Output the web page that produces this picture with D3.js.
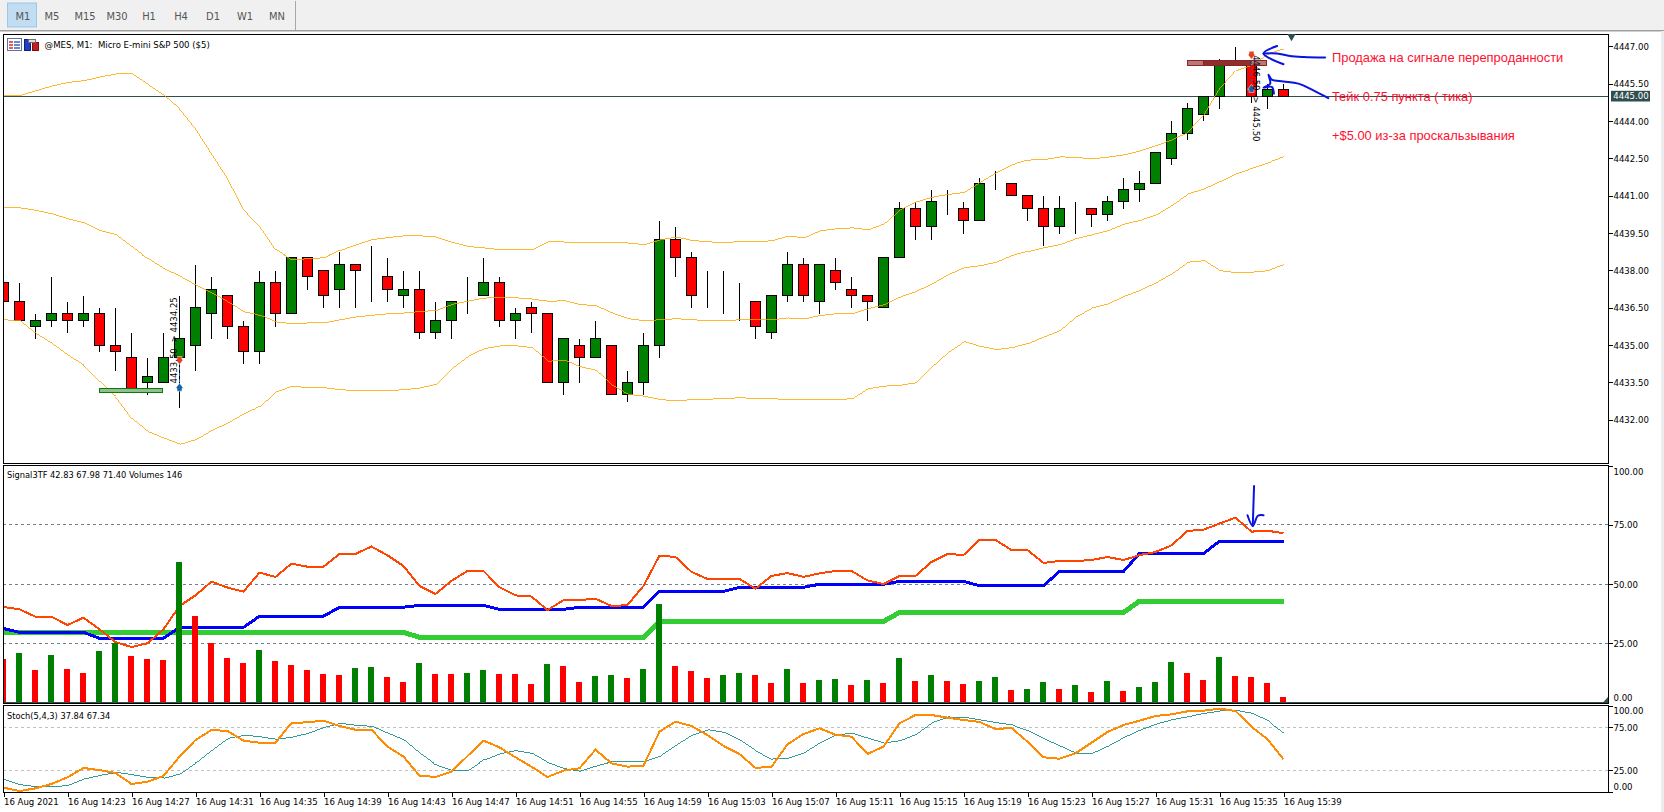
<!DOCTYPE html>
<html>
<head>
<meta charset="utf-8">
<script src="https://cdn.jsdelivr.net/npm/d3@7"></script>
<style>
  body { margin: 0; background: #fff; }
  svg { display: block; }
  text { font-family: "DejaVu Sans Condensed", "DejaVu Sans", sans-serif; font-size: 9.5px; fill: #000; }
  .axis path { display: none; }
  .axis line { stroke: #000; shape-rendering: crispEdges; }
  .note { font-family: "Liberation Sans", sans-serif; font-size: 12.9px; fill: #ff1030; }
  .tool { font-size: 11px; fill: #555; text-anchor: middle; }
  .caption { font-size: 9.2px; }
</style>
</head>
<body>
<svg class="chart" width="1664" height="812"></svg>
<script>
const timeframes = ["M1", "M5", "M15", "M30", "H1", "H4", "D1", "W1", "MN"];
const priceTicks = [4447, 4445.5, 4444, 4442.5, 4441, 4439.5, 4438, 4436.5, 4435, 4433.5, 4432];
const timeTicks = ["16 Aug 2021", "16 Aug 14:23", "16 Aug 14:27", "16 Aug 14:31", "16 Aug 14:35", "16 Aug 14:39", "16 Aug 14:43",
  "16 Aug 14:47", "16 Aug 14:51", "16 Aug 14:55", "16 Aug 14:59", "16 Aug 15:03", "16 Aug 15:07", "16 Aug 15:11",
  "16 Aug 15:15", "16 Aug 15:19", "16 Aug 15:23", "16 Aug 15:27", "16 Aug 15:31", "16 Aug 15:35", "16 Aug 15:39"];

const open = [4437.5,4436.75,4435.75,4436,4436.25,4436,4436.25,4435,4434.5,4433.5,4433.5,4434.5,4435,4436.25,4437,4435.75,4434.75,4437.5,4436.25,4438.5,
  4438,4437.25,4438.25,4438,4437.75,4437,4437.25,4435.5,4436,4437,4437,4437.5,4436,4436.5,4436.25,4433.5,4435,4434.5,4435,4433,
  4433.5,4435,4439.25,4438.5,4437,4436.75,4436.75,4436.75,4435.5,4437,4438.25,4436.75,4438,4437.25,4437,4436.5,4438.5,4440.5,4439.75,4440.75,
  4440.5,4440,4441.25,4441.5,4441,4440.5,4439.75,4440.5,4440.5,4440.25,4440.75,4441.25,4441.5,4442.5,4443.5,4444.25,4445,4446.25,4446.25,4445,4445.25];
const high = [4437.5,4437.5,4436.25,4437.75,4436.75,4437,4436.5,4436.5,4435.5,4434.5,4435.5,4437,4438.25,4437.75,4437,4436,4438,4438,4438.5,4438.5,
  4438,4438.75,4438.25,4439,4438.5,4438,4438,4436.75,4436.75,4437.75,4438.5,4437.75,4436.5,4436.75,4436.25,4435.25,4435.25,4436,4435,4434,
  4435.5,4440,4439.75,4438.75,4438,4438,4437.5,4436.75,4437,4438.75,4438.5,4438.25,4438.5,4437.75,4437,4438.5,4440.75,4440.75,4441.25,4441.25,
  4440.75,4441.75,4442,4441.5,4441,4441,4441,4440.75,4440.5,4441,4441.75,4442,4442.75,4444,4444.75,4445,4446.5,4447,4446.25,4445.5,4445.5];
const low = [4436.75,4436,4435.25,4435.75,4435.5,4435.75,4434.75,4434,4433.25,4433,4433.5,4432.5,4434,4435.25,4435.25,4434.25,4434.25,4435.75,4436.25,4437.25,
  4436.5,4436.5,4436.5,4436.75,4436.75,4436.5,4435.25,4435.25,4435.25,4436.25,4437,4435.75,4435.25,4435.5,4433.5,4433,4433.5,4434.5,4433,4432.75,
  4433,4434.5,4437.75,4436.5,4436.5,4436.25,4436,4435.25,4435.25,4436.75,4436.75,4436.25,4437.25,4436.5,4436,4436.5,4438.5,4439.25,4439.25,4440.25,
  4439.5,4440,4441.25,4441,4440,4439,4439.5,4439.5,4439.75,4440,4440.5,4440.75,4441.5,4442.25,4443.25,4444,4444.5,4446.25,4444.75,4444.5,4445];
const close = [4436.75,4436,4436,4436.25,4436,4436.25,4435,4434.75,4433.25,4433.75,4434.5,4435.25,4436.5,4437.25,4435.75,4434.75,4437.5,4436.25,4438.5,4437.75,
  4437,4438.25,4438,4438,4437.25,4437.25,4435.5,4436,4436.75,4437,4437.5,4436,4436.25,4436.25,4433.5,4435.25,4434.5,4435.25,4433,4433.5,
  4435,4439.25,4438.5,4437,4437,4436.75,4436.75,4435.75,4437,4438.25,4437,4438.25,4437.5,4437,4436.75,4438.5,4440.5,4439.75,4440.75,4440.75,
  4440,4441.5,4441.25,4441,4440.5,4439.75,4440.5,4440.5,4440.25,4440.75,4441.25,4441.5,4442.75,4443.5,4444.5,4445,4446.25,4446.25,4445,4445.25,4445];

const bandUpper = [4445.03,4445.03,4445.22,4445.41,4445.55,4445.62,4445.77,4445.89,4445.89,4445.46,4445.02,4444.48,4443.68,4442.68,4441.68,4440.43,4439.77,4438.83,4438.43,4438.47,
  4438.51,4438.8,4439.03,4439.24,4439.32,4439.39,4439.39,4439.34,4439.12,4438.96,4438.9,4438.83,4438.85,4438.83,4439.15,4439.14,4439.11,4439.14,4439.14,4439.1,
  4439.03,4439.23,4439.34,4439.2,4439.15,4439.11,4439.17,4439.15,4439.19,4439.38,4439.31,4439.59,4439.67,4439.71,4439.63,4439.87,4440.43,4440.75,4440.94,4441.05,
  4441.13,4441.54,4441.92,4442.25,4442.43,4442.45,4442.56,4442.54,4442.48,4442.55,4442.64,4442.8,4443.01,4443.25,4443.55,4444.22,4445.29,4446.02,4446.25,4446.69,4446.89];
const bandMiddle = [4440.51,4440.51,4440.41,4440.27,4440.07,4439.91,4439.6,4439.43,4438.94,4438.47,4438.07,4437.76,4437.4,4437.09,4436.73,4436.33,4436.2,4435.93,4435.86,4435.89,
  4435.89,4436.02,4436.13,4436.2,4436.26,4436.29,4436.35,4436.39,4436.64,4436.77,4436.89,4436.9,4436.9,4436.85,4436.76,4436.78,4436.63,4436.58,4436.29,4436.06,
  4435.98,4436.02,4436.06,4436.02,4435.98,4435.98,4436.02,4436.02,4436.02,4436.09,4436.05,4436.19,4436.26,4436.26,4436.46,4436.62,4436.93,4437.16,4437.46,4437.83,
  4438.11,4438.19,4438.33,4438.6,4438.76,4438.91,4439.04,4439.28,4439.43,4439.6,4439.86,4440.01,4440.23,4440.61,4441.07,4441.28,4441.57,4441.88,4442.1,4442.32,4442.56];
const bandLower = [4436.02,4435.97,4435.46,4435.06,4434.59,4434.19,4433.52,4432.92,4432.05,4431.52,4431.26,4431.02,4431.21,4431.58,4431.88,4432.25,4432.54,4433.12,4433.35,4433.29,
  4433.29,4433.21,4433.17,4433.17,4433.17,4433.21,4433.28,4433.43,4434.06,4434.55,4434.86,4434.97,4434.97,4434.9,4434.35,4434.4,4434.13,4433.99,4433.39,4433.02,
  4432.95,4432.81,4432.77,4432.81,4432.83,4432.85,4432.89,4432.85,4432.85,4432.81,4432.81,4432.81,4432.81,4432.85,4433.25,4433.35,4433.39,4433.49,4434.13,4434.7,
  4435.14,4434.95,4434.82,4434.9,4435.06,4435.33,4435.59,4436.13,4436.49,4436.66,4436.96,4437.2,4437.51,4437.87,4438.33,4438.39,4437.99,4437.91,4437.93,4437.99,4438.23];

const signalRed = [40.3,39.3,36.2,36.2,32.7,35.8,30.9,25.5,23.4,25,30.9,40.7,45.2,51,48.5,46.8,54.8,53,58.6,57.3,
  57.3,62.7,62.7,65.8,62.1,57.6,49.2,45.8,51.3,55.5,55.5,48.6,45.2,44.7,39,43.2,43.2,43.8,40.7,41.1,
  49.2,62,61.4,55.1,52.1,52.1,52.1,48,53.4,54.6,53,54.5,55.5,55.5,51.5,50,53.4,53.4,59.3,62.7,
  62.2,68.6,68.6,64.3,64.3,58.9,59.7,59.7,60.1,61.4,60.1,62.2,63.5,66.3,72.4,72.9,75.5,78,72.1,72.5,71.4];
const signalBlue = [31.2,29.6,29.6,29.6,29.6,29.6,27.1,27.1,27.1,27.1,27.1,31.7,31.7,31.7,31.7,31.7,36.4,36.4,36.4,36.4,
  36.4,40.2,40.2,40.2,40.2,40.2,41,41,41,41,41,39.3,39.3,39.3,39.3,39.3,40.2,40.2,40.2,40.2,
  40.2,46.9,46.9,46.9,46.9,46.9,48.6,48.6,48.6,48.6,48.6,49.9,49.9,49.9,49.9,49.9,51.1,51.1,51.1,51.1,
  51.1,49.3,49.3,49.3,49.3,49.3,55.3,55.3,55.3,55.3,55.3,62.9,62.9,62.9,62.9,62.9,68,68,68,68,68];
const signalGreen = [29.6,29.6,29.6,29.6,29.6,29.6,29.6,29.6,29.6,29.6,29.6,29.6,29.6,29.6,29.6,29.6,29.6,29.6,29.6,29.6,
  29.6,29.6,29.6,29.6,29.6,29.6,27.5,27.5,27.5,27.5,27.5,27.5,27.5,27.5,27.5,27.5,27.5,27.5,27.5,27.5,
  27.5,34.2,34.2,34.2,34.2,34.2,34.2,34.2,34.2,34.2,34.2,34.2,34.2,34.2,34.2,34.2,38,38,38,38,
  38,38,38,38,38,38,38,38,38,38,38,42.8,42.8,42.8,42.8,42.8,42.8,42.8,42.8,42.8,42.8];
const volumes = [1187,1351,886,1296,913,803,1406,1625,1269,1187,1160,3844,2365,1625,1214,1077,1433,1132,1023,886,
  776,749,940,968,694,557,1077,776,776,803,886,776,776,502,1050,995,557,721,730,666,
  913,2693,995,858,666,749,803,749,530,913,530,612,639,475,612,530,1214,584,749,584,
  502,584,694,338,365,557,365,475,283,584,310,420,557,1105,803,612,1242,721,694,530,146];
const stochMain = [4.8,0.9,4,9.1,16.8,27.7,25.3,21.9,9.1,11.8,18.4,40.9,60.2,71.9,70.7,59.5,57.1,57.1,80,80.8,
  82.7,76.5,72.2,72.2,52.5,40.9,18.8,17.2,23.4,41.6,59.5,51.7,40.1,29.2,17.2,24.6,27.3,49,33.1,29.2,
  30.4,69.9,81.6,76.5,66,53.3,44,27.7,29.2,55.2,67.2,73.8,66.4,64.1,44,52.5,79.6,89.3,89.3,86.2,
  83.5,81.2,73,74.2,58.3,40.1,38.5,44.7,57.1,69.5,77.7,82.7,88.1,90.1,93.6,94.3,96.7,94,75.7,61,37.8];
const stochSignal = [14.1,8.3,6,5.6,7.5,14.9,19.1,22.6,19.9,16.8,16,20.7,33.9,48.6,62.2,65.7,64.1,61,63.7,68,
  75,79.6,77.3,76.1,68,60.2,44.7,31.2,24.6,25,37,44.3,47.8,44.7,33.9,26.9,23.8,30,34.7,35.4,
  35.4,41.6,54.4,66,72.2,69.1,60.2,47.4,38.1,38.9,45.5,57.1,66.4,68,62.2,56.7,59.5,66.8,80.4,87,
  86.6,83.5,80.4,77.7,71.1,61.4,53.2,44.7,44.7,53.2,63.3,71.8,78.8,83.9,87.4,91.2,94,94.7,91.2,82.7,68.5];

// zones, trades and hand drawn notes, in bar index / chart value
const lastPrice = 4445;
const zoneStart = [6, 74, 75];
const zoneEnd = [9.94, 78.96, 77.95];
const zoneTop = [4433.25, 4446.44, 4446.44];
const zoneBottom = [4433.07, 4446.25, 4446.25];
const zoneFill = ["#8fbf8f", "#b87878", "#8c2f2f"];
const zoneEdge = ["#0b7a0b", "#8b2525", "#8b2525"];
const tradeBar = [11, 78];
const tradeSell = [4434.38, 4446.64];
const tradeBuy = [4433.31, 4445.31];
const tradeLabel = ["4433.50 -> 4434.25", "4446.50 -> 4445.50"];
const tradeLabelPrice = [4435.19, 4444.91];
const tradeLabelSide = [-5.5, 4.5];
const tradeLabelTurn = [-90, 90];
const noteTexts = ["Продажа на сигнале перепроданности", "Тейк 0.75 пункта ( тика)", "+$5.00 из-за проскальзывания"];
const notePrice = [4446.55, 4444.98, 4443.4];
const penSell = [[82.6,4446.55],[81.27,4446.57],[80.4,4446.61],[79.6,4446.71],[78.75,4446.71]];
const penSellHead = [[79.6,4447.01],[78.75,4446.71],[80,4446.28]];
const penTake = [[82.8,4444.92],[81.87,4445.23],[80.93,4445.5],[80,4445.59],[79.27,4445.66],[79.06,4445.86],[79.17,4445.5],[78.75,4445.34],[79.27,4445.37],[79.4,4445.1]];
const penSignal = [[78.16,91.35],[78.08,74.5]];
const penSignalHead = [[77.75,79],[78.08,74.5],[78.4,78.8],[78.75,79]];

const bars = d3.range(open.length);
const svg = d3.select("svg.chart");

const panelLeft = 3;
const panelRight = 1608.5;
const x = d3.scaleLinear().domain([0, 80]).range([3.5, 1283.5]);
const priceY = d3.scaleLinear().domain([4432, 4447]).range([419.8, 46.3]);
const signalY = d3.scaleLinear().domain([0, 100]).range([702.5, 465.5]);
const stochY = d3.scaleLinear().domain([0, 100]).range([791.8, 705.8]);
const volumeH = d3.scaleLinear().domain([0, 146]).range([0, 5.33]);

// toolbar
svg.append("rect").attr("width", 1664).attr("height", 30).attr("fill", "#f0f0f0");
svg.append("rect").attr("y", 30).attr("width", 1664).attr("height", 1.5).attr("fill", "#a0a0a0");
svg.append("rect").attr("x", 295).attr("y", 1).attr("width", 1).attr("height", 29).attr("fill", "#a8a8a8");
svg.append("rect").attr("x", 7.5).attr("y", 3).attr("width", 29).attr("height", 24).attr("fill", "#c2dcf2").attr("stroke", "#98c8ee");
svg.append("rect").attr("x", 1661).attr("y", 31).attr("width", 3).attr("height", 781).attr("fill", "#ededed");
svg.selectAll("text.tool").data(timeframes).enter().append("text")
  .attr("class", "tool")
  .attr("x", (d, i) => [23, 52, 85, 117, 149, 181, 213, 245, 277][i])
  .attr("y", 19.5)
  .text((d) => d);

// panel clips
const defs = svg.append("defs");
[["clipMain", 34, 429.5], ["clipSignal", 465.5, 237.5], ["clipStoch", 705.5, 86.5]].forEach((c) => {
  defs.append("clipPath").attr("id", c[0]).append("rect")
    .attr("x", panelLeft).attr("y", c[1]).attr("width", panelRight - panelLeft).attr("height", c[2]);
});
const main = svg.append("g").attr("clip-path", "url(#clipMain)");
const sig = svg.append("g").attr("clip-path", "url(#clipSignal)");
const sto = svg.append("g").attr("clip-path", "url(#clipStoch)");

const crisp = (v) => Math.round(v - 0.5) + 0.5;

// price panel
main.append("line")
  .attr("x1", panelLeft).attr("x2", panelRight)
  .attr("y1", crisp(priceY(lastPrice))).attr("y2", crisp(priceY(lastPrice)))
  .attr("stroke", "#2f4f4f").attr("shape-rendering", "crispEdges");

const candles = main.selectAll("g.candle").data(bars).enter().append("g").attr("class", "candle").attr("shape-rendering", "crispEdges");
candles.append("line")
  .attr("x1", (i) => x(i)).attr("x2", (i) => x(i))
  .attr("y1", (i) => crisp(priceY(high[i]))).attr("y2", (i) => crisp(priceY(low[i])))
  .attr("stroke", "#000");
candles.append("rect")
  .attr("x", (i) => x(i) - 5)
  .attr("width", 10)
  .attr("y", (i) => crisp(priceY(Math.max(open[i], close[i]))))
  .attr("height", (i) => crisp(priceY(Math.min(open[i], close[i]))) - crisp(priceY(Math.max(open[i], close[i]))))
  .attr("fill", (i) => (close[i] >= open[i] ? "#008000" : "#ff0000"))
  .attr("stroke", "#000");

const priceLine = d3.line().x((d, i) => x(i)).y((d) => priceY(d));
[bandUpper, bandMiddle, bandLower].forEach((band) => {
  main.append("path").attr("d", priceLine(band))
    .attr("fill", "none").attr("stroke", "#ffa500").attr("stroke-width", 0.8).attr("shape-rendering", "crispEdges");
});

main.selectAll("rect.zone").data(zoneStart).enter().append("rect")
  .attr("class", "zone")
  .attr("x", (d) => crisp(x(d)))
  .attr("width", (d, i) => Math.round(x(zoneEnd[i]) - x(d)))
  .attr("y", (d, i) => crisp(priceY(zoneTop[i])))
  .attr("height", (d, i) => Math.round(priceY(zoneBottom[i]) - priceY(zoneTop[i])))
  .attr("fill", (d, i) => zoneFill[i])
  .attr("stroke", (d, i) => zoneEdge[i])
  .attr("shape-rendering", "crispEdges");

// trades
const trades = main.selectAll("g.trade").data(tradeBar).enter().append("g").attr("class", "trade");
trades.append("line")
  .attr("x1", (d) => x(d)).attr("x2", (d) => x(d))
  .attr("y1", (d, i) => priceY(tradeSell[i])).attr("y2", (d, i) => priceY(tradeBuy[i]))
  .attr("stroke", "#1560a8").attr("stroke-dasharray", "3,3").attr("shape-rendering", "crispEdges");
trades.append("path")
  .attr("d", "M-2.5,-4H2.5V-1H4L0,4L-4,-1H-2.5Z")
  .attr("transform", (d, i) => `translate(${x(d)},${priceY(tradeSell[i])})`)
  .attr("fill", "#e2421f").attr("stroke", "#fff").attr("stroke-width", 0.5);
trades.append("path")
  .attr("d", "M-2.5,4H2.5V1H4L0,-4L-4,1H-2.5Z")
  .attr("transform", (d, i) => `translate(${x(d)},${priceY(tradeBuy[i])})`)
  .attr("fill", "#1560a8").attr("stroke", "#fff").attr("stroke-width", 0.5);
trades.append("text")
  .attr("text-anchor", "middle")
  .attr("dy", "0.35em")
  .attr("transform", (d, i) => `translate(${x(d) + tradeLabelSide[i]},${priceY(tradeLabelPrice[i])}) rotate(${tradeLabelTurn[i]})`)
  .text((d, i) => tradeLabel[i]);

// notes next to the last bars
svg.selectAll("text.note").data(noteTexts).enter().append("text")
  .attr("class", "note")
  .attr("x", x(83.03))
  .attr("y", (d, i) => priceY(notePrice[i]))
  .attr("dy", "0.35em")
  .text((d) => d);

const penLine = (scaleY) => d3.line().x((d) => x(d[0])).y((d) => scaleY(d[1])).curve(d3.curveCatmullRom);
[[penSell, priceY], [penSellHead, priceY], [penTake, priceY], [penSignal, signalY], [penSignalHead, signalY]].forEach((p) => {
  svg.append("path").attr("d", penLine(p[1])(p[0]))
    .attr("fill", "none").attr("stroke", "#0a14e0").attr("stroke-width", 2).attr("stroke-linecap", "round");
});

// signal panel
[75, 50, 25].forEach((level) => {
  sig.append("line")
    .attr("x1", panelLeft).attr("x2", panelRight)
    .attr("y1", crisp(signalY(level))).attr("y2", crisp(signalY(level)))
    .attr("stroke", "#708090").attr("stroke-dasharray", "3,3").attr("shape-rendering", "crispEdges");
});
const signalLine = d3.line().x((d, i) => x(i)).y((d) => signalY(d));
sig.append("path").attr("d", signalLine(signalGreen)).attr("fill", "none").attr("stroke", "#32cd32").attr("stroke-width", 5).attr("shape-rendering", "crispEdges");
sig.append("path").attr("d", signalLine(signalBlue)).attr("fill", "none").attr("stroke", "#0000ff").attr("stroke-width", 3).attr("shape-rendering", "crispEdges");
sig.append("path").attr("d", signalLine(signalRed)).attr("fill", "none").attr("stroke", "#ff4500").attr("stroke-width", 2).attr("shape-rendering", "crispEdges");
sig.selectAll("rect.volume").data(bars).enter().append("rect")
  .attr("class", "volume")
  .attr("x", (i) => x(i) - 3.5)
  .attr("width", 6)
  .attr("y", (i) => 702 - volumeH(volumes[i]))
  .attr("height", (i) => volumeH(volumes[i]))
  .attr("fill", (i) => (i > 0 && volumes[i] > volumes[i - 1] ? "#008000" : "#ff0000"))
  .attr("shape-rendering", "crispEdges");
sig.append("line").attr("x1", panelLeft).attr("x2", panelRight).attr("y1", 702.5).attr("y2", 702.5)
  .attr("stroke", "#2f4f4f").attr("stroke-width", 1).attr("shape-rendering", "crispEdges");

// stochastic panel
[75, 25].forEach((level) => {
  sto.append("line")
    .attr("x1", panelLeft).attr("x2", panelRight)
    .attr("y1", crisp(stochY(level))).attr("y2", crisp(stochY(level)))
    .attr("stroke", "#c0c0c0").attr("stroke-dasharray", "3,3").attr("shape-rendering", "crispEdges");
});
const stochLine = d3.line().x((d, i) => x(i)).y((d) => stochY(d));
sto.append("path").attr("d", stochLine(stochSignal)).attr("fill", "none").attr("stroke", "#008080").attr("stroke-width", 0.8).attr("shape-rendering", "crispEdges");
sto.append("path").attr("d", stochLine(stochMain)).attr("fill", "none").attr("stroke", "#ff8c00").attr("stroke-width", 2).attr("shape-rendering", "crispEdges");

// frames
[[34, 463.5], [465.5, 703.5], [705.5, 792.5]].forEach((p) => {
  svg.append("rect")
    .attr("x", panelLeft + 0.5).attr("y", p[0])
    .attr("width", panelRight - panelLeft - 0.5).attr("height", p[1] - p[0])
    .attr("fill", "none").attr("stroke", "#000").attr("shape-rendering", "crispEdges");
});

// axes
const priceAxis = svg.append("g").attr("class", "axis")
  .attr("transform", `translate(${panelRight},0)`)
  .call(d3.axisRight(priceY).tickValues(priceTicks).tickSize(4).tickPadding(1).tickFormat(d3.format(".2f")));
const signalAxis = svg.append("g").attr("class", "axis")
  .attr("transform", `translate(${panelRight},0)`)
  .call(d3.axisRight(signalY).tickValues([100, 75, 50, 25, 0]).tickSize(4).tickPadding(1).tickFormat(d3.format(".2f")));
const stochAxis = svg.append("g").attr("class", "axis")
  .attr("transform", `translate(${panelRight},0)`)
  .call(d3.axisRight(stochY).tickValues([100, 75, 25, 0]).tickSize(4).tickPadding(1).tickFormat(d3.format(".2f")));
signalAxis.selectAll("text").attr("y", (d) => (d === 100 ? 5.5 : d === 0 ? -5.5 : 0));
stochAxis.selectAll("text").attr("y", (d) => (d === 100 ? 5 : d === 0 ? -5 : 0));
signalAxis.selectAll(".tick").filter((d) => d === 0).select("line").remove();

const timeAxis = svg.append("g").attr("class", "axis")
  .attr("transform", "translate(0,792.5)")
  .call(d3.axisBottom(x).tickValues(d3.range(0, 81, 4)).tickSize(4).tickPadding(2).tickFormat((d, i) => timeTicks[i]));
timeAxis.selectAll("text").attr("text-anchor", "start");

// current price tag
svg.append("rect")
  .attr("x", 1611).attr("y", priceY(lastPrice) - 5.3)
  .attr("width", 39).attr("height", 10.7)
  .attr("fill", "#2f4f4f");
svg.append("text")
  .attr("x", 1613.3).attr("y", priceY(lastPrice))
  .attr("dy", "0.35em").style("fill", "#fff")
  .text(d3.format(".2f")(lastPrice));

// chart shift marker and corner mark
svg.append("path").attr("d", d3.symbol(d3.symbolTriangle, 30)()).attr("transform", `translate(${x(80.5)},36.5) rotate(180)`).attr("fill", "#2f4f4f");
svg.append("path").attr("d", "M1608,697V702.5H1603Z").attr("fill", "#2f4f4f");

// panel captions
svg.append("text").attr("x", 44.6).attr("y", 48).attr("xml:space", "preserve").text("@MES, M1:  Micro E-mini S&P 500 ($5)");
svg.append("text").attr("class", "caption").attr("x", 7).attr("y", 477.5).text("Signal3TF 42.83 67.98 71.40 Volumes 146");
svg.append("text").attr("class", "caption").attr("x", 7).attr("y", 718.5).text("Stoch(5,4,3) 37.84 67.34");

// small window icons
const icons = svg.append("g").attr("shape-rendering", "crispEdges");
icons.append("rect").attr("x", 7.5).attr("y", 38.5).attr("width", 14).attr("height", 12).attr("fill", "#fff").attr("stroke", "#6070a0");
d3.range(3).forEach((k) => {
  icons.append("rect").attr("x", 9).attr("y", 41 + k * 3).attr("width", 4).attr("height", 2).attr("fill", "#e06060");
  icons.append("rect").attr("x", 14).attr("y", 41 + k * 3).attr("width", 6).attr("height", 2).attr("fill", "#7088c8");
});
icons.append("rect").attr("x", 24.5).attr("y", 39.5).attr("width", 6).attr("height", 11).attr("fill", "#2040c0").attr("stroke", "#102080");
icons.append("rect").attr("x", 32.5).attr("y", 42.5).attr("width", 6).attr("height", 8).attr("fill", "#c02020").attr("stroke", "#801010");
icons.append("rect").attr("x", 28).attr("y", 39).attr("width", 7).attr("height", 3).attr("fill", "#e0e0e0").attr("stroke", "#707070");
</script>
</body>
</html>
